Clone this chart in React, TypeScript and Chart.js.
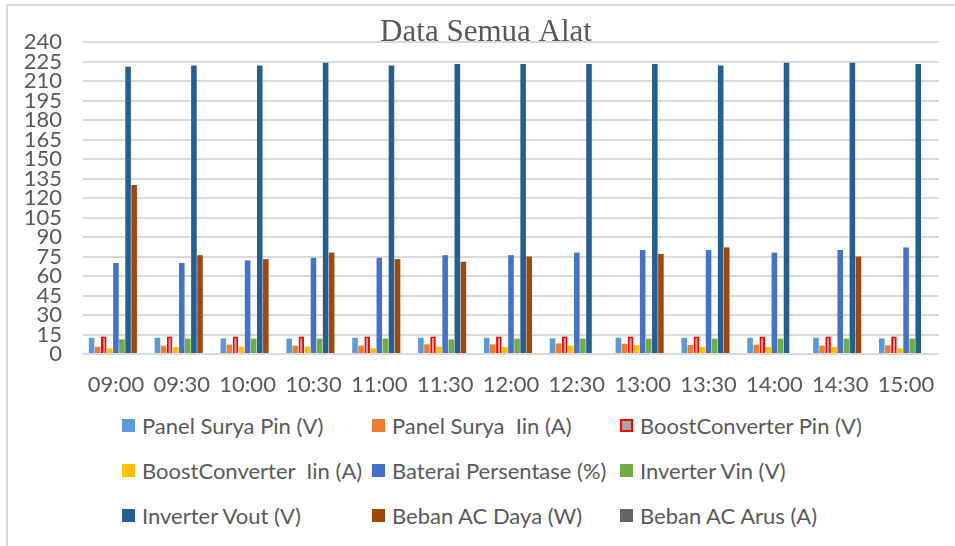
import React, { useEffect, useRef } from "react";
import { Chart, registerables } from "chart.js";

Chart.register(...registerables);

const chartTitle = "Data Semua Alat";

const times = ["09:00", "09:30", "10:00", "10:30", "11:00", "11:30", "12:00", "12:30", "13:00", "13:30", "14:00", "14:30", "15:00"];

const panelSuryaPin = [12.5, 12.5, 12, 11.8, 12.5, 12.5, 12.5, 12, 12.5, 12.5, 12.5, 12.5, 12];
const panelSuryaIin = [5.6, 6.4, 7.2, 6.4, 6.4, 7.4, 7.4, 8.2, 7.9, 6.9, 7.2, 6.4, 6.7];
const boostPin = [13.5, 13.5, 13.5, 13.5, 13.5, 13.5, 13.5, 13.5, 13.5, 13.5, 13.5, 13.5, 13.5];
const boostIin = [4.3, 5.4, 5.6, 5.6, 4.3, 5.6, 5.4, 6.4, 6.9, 5.4, 5.4, 5.4, 4.3];
const bateraiPersen = [70, 70, 72, 74, 74, 76, 76, 78, 80, 80, 78, 80, 82];
const inverterVin = [11.3, 11.8, 11.8, 11.8, 11.8, 11.3, 11.8, 11.8, 11.8, 11.8, 11.8, 11.8, 11.8];
const inverterVout = [221, 222, 222, 224, 222, 223, 223, 223, 223, 222, 224, 224, 223];
const bebanDaya = [130, 76, 73, 78, 73, 71, 75, 0, 77, 82, 0, 75, 0];
const bebanArus = [0, 0, 0, 0, 0, 0, 0, 0, 0, 0, 0, 0, 0];

const seriesNames = [
  "Panel Surya Pin (V)",
  "Panel Surya  Iin (A)",
  "BoostConverter Pin (V)",
  "BoostConverter  Iin (A)",
  "Baterai Persentase (%)",
  "Inverter Vin (V)",
  "Inverter Vout (V)",
  "Beban AC Daya (W)",
  "Beban AC Arus (A)",
];
const seriesValues = [panelSuryaPin, panelSuryaIin, boostPin, boostIin, bateraiPersen, inverterVin, inverterVout, bebanDaya, bebanArus];
const seriesColors = ["#5B9BD5", "#ED7D31", "#A5A5A5", "#FFC000", "#4472C4", "#70AD47", "#255E91", "#9E480E", "#636363"];
const seriesBorders = ["", "", "#FF0000", "", "", "", "", "", ""];

const yMin = 0;
const yMax = 240;
const yStep = 15;

const TEXT = "#595959";
const SANS = "Lato, 'Liberation Sans', sans-serif";

const titlePlugin = {
  id: "centeredTitle",
  afterDraw(chart: any) {
    const ctx = chart.ctx;
    ctx.save();
    ctx.font = "31px 'Liberation Serif', 'Times New Roman', serif";
    ctx.fillStyle = TEXT;
    ctx.textAlign = "center";
    ctx.textBaseline = "alphabetic";
    ctx.fillText(chartTitle, chart.width / 2, chart.chartArea.top - 1);
    ctx.restore();
  },
};

export default function App() {
  const ref = useRef<HTMLCanvasElement | null>(null);

  useEffect(() => {
    if (!ref.current) return;
    const chart = new Chart(ref.current, {
      type: "bar",
      data: {
        labels: times,
        datasets: seriesNames.map((name, i) => ({
          label: name,
          data: seriesValues[i],
          backgroundColor: seriesColors[i],
          borderColor: seriesBorders[i] || seriesColors[i],
          borderWidth: seriesBorders[i] ? 2 : 0,
          barPercentage: 0.92,
          categoryPercentage: 0.83,
        })),
      },
      options: {
        responsive: false,
        animation: false,
        layout: { padding: { left: 0, right: 33, top: 42, bottom: 0 } },
        plugins: {
          legend: { display: false },
          tooltip: { enabled: false },
          title: { display: false },
        },
        scales: {
          x: {
            grid: { display: false, drawTicks: false },
            border: { display: false },
            ticks: { color: TEXT, font: { family: SANS, size: 22 }, padding: 18, maxRotation: 0, autoSkip: false },
            afterFit: (s: any) => { s.height = 46; },
          },
          y: {
            min: yMin,
            max: yMax,
            ticks: { stepSize: yStep, color: TEXT, font: { family: SANS, size: 22 }, padding: 21, autoSkip: false },
            grid: { color: "#d9d9d9", lineWidth: 2, drawTicks: false },
            border: { display: false },
            afterFit: (s: any) => { s.width = 83; },
          },
        },
      },
      plugins: [titlePlugin],
    });
    return () => chart.destroy();
  }, []);

  return (
    <div style={{ position: "absolute", left: 0, top: 0, width: 955, height: 546, overflow: "hidden", background: "#fff" }}>
      <div style={{ position: "absolute", left: 6, top: 4, width: 1000, height: 600, border: "2px solid #d9d9d9", boxSizing: "border-box" }} />
      <canvas ref={ref} width={972} height={400} style={{ position: "absolute", left: 0, top: 0, width: 972, height: 400 }} />
      <div
        style={{
          position: "absolute",
          left: 122,
          top: 403,
          display: "grid",
          gridTemplateColumns: "250px 248px auto",
          gridAutoRows: "45px",
          alignItems: "center",
          fontFamily: SANS,
          fontSize: 22,
          color: TEXT,
        }}
      >
        {seriesNames.map((name, i) => (
          <div key={name} style={{ display: "flex", alignItems: "center", whiteSpace: "pre" }}>
            <span
              style={{
                display: "inline-block",
                width: 13,
                height: 13,
                background: seriesColors[i],
                border: seriesBorders[i] ? `2px solid ${seriesBorders[i]}` : "none",
                boxSizing: "border-box",
                marginRight: 7,
                flex: "none",
              }}
            />
            <span>{name}</span>
          </div>
        ))}
      </div>
    </div>
  );
}
